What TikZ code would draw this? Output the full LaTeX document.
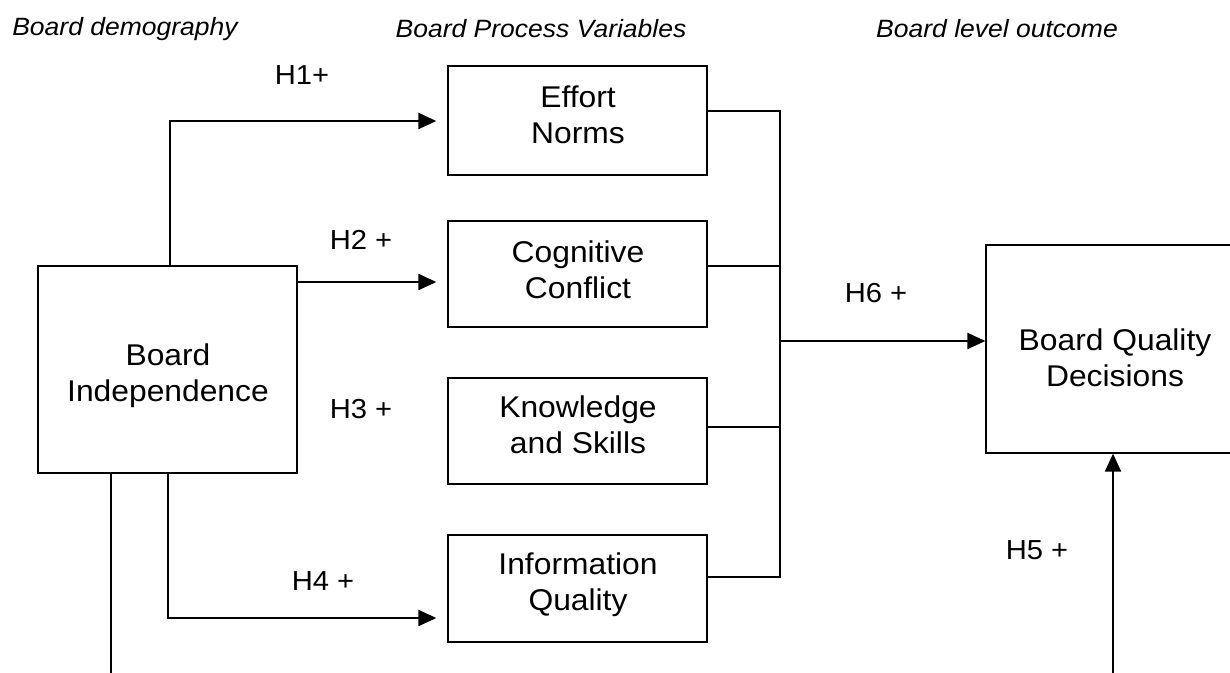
\documentclass[tikz,border=0pt]{standalone}
\usepackage{fontspec}
\setmainfont{Liberation Sans}[FakeStretch=1.06]
\usetikzlibrary{arrows.meta}
\begin{document}
\begin{tikzpicture}[x=1pt,y=-1pt,
  box/.style={draw, line width=1.3pt, inner sep=0pt},
  boxtext/.style={align=center, font=\fontsize{30}{36}\selectfont, inner sep=0pt},
  hyp/.style={font=\fontsize{27.5}{33}\selectfont, inner sep=0pt},
  head/.style={font=\fontsize{25}{30}\selectfont\itshape, inner sep=0pt},
  link/.style={line width=1.2pt},
  arr/.style={line width=2.1pt, -{Triangle[length=18pt,width=16pt]}}]
\useasboundingbox (0,0) rectangle (1230,672);
\clip (0,0) rectangle (1230,672);

% column headings
\node[head] (d1) at (125,29) {Board demography};
\node[head] (d2) at (541,29) {Board Process Variables};
\node[head] (d3) at (997,29) {Board level outcome};

% boxes
\node[box, minimum width=259pt, minimum height=207pt] (bi) at (167.5,369.5) {};
\node[box, minimum width=259pt, minimum height=109pt] (en) at (577.5,120.5) {};
\node[box, minimum width=259pt, minimum height=106pt] (cc) at (577.5,274) {};
\node[box, minimum width=259pt, minimum height=106pt] (ks) at (577.5,431) {};
\node[box, minimum width=259pt, minimum height=107pt] (io) at (577.5,588.5) {};
\node[box, minimum width=254pt, minimum height=208pt] (bqd) at (1113,349) {};

% box texts
\node[boxtext] (bit) at (168,376) {Board\\Independence};
\node[boxtext] (ent) at (578,115) {Effort\\Norms};
\node[boxtext] (cct) at (578,270) {Cognitive\\Conflict};
\node[boxtext] (kst) at (578,425) {Knowledge\\and Skills};
\node[boxtext] (iot) at (578,585) {Information\\Quality};
\node[boxtext] (bqdt) at (1115,358) {Board Quality\\Decisions};

% hypotheses H1--H4
\coordinate (h1c) at (170,121);
\draw[arr, shorten >=11pt] (bi.north -| h1c) |- (en.west |- h1c);
\coordinate (h2c) at (0,282);
\draw[arr, shorten >=11pt] (bi.east |- h2c) -- (cc.west |- h2c);
\coordinate (h4c) at (168,618);
\draw[arr, shorten >=11pt] (bi.south -| h4c) |- (io.west |- h4c);

% H5: direct path below the figure
\coordinate (h5c) at (111,720);
\draw[arr] (bi.south -| h5c) -- (h5c) -| (bqd.south);

% process variables joined into H6
\coordinate (jt) at (780,111);
\coordinate (j2) at (780,266);
\coordinate (j3) at (780,427);
\coordinate (jb) at (780,577);
\coordinate (jm) at (780,341);
\draw[link] (en.east |- jt) -- (jt) -- (jb) -- (io.east |- jb);
\draw[link] (cc.east |- j2) -- (j2);
\draw[link] (ks.east |- j3) -- (j3);
\draw[arr] (jm) -- (bqd.west |- jm);

% hypothesis labels
\node[hyp] (h1) at (302,75) {H1+};
\node[hyp] (h2) at (361,240) {H2 +};
\node[hyp] (h3) at (361,409) {H3 +};
\node[hyp] (h4) at (323,581) {H4 +};
\node[hyp] (h6) at (876,293) {H6 +};
\node[hyp] (h5) at (1037,550) {H5 +};
\end{tikzpicture}
\end{document}
